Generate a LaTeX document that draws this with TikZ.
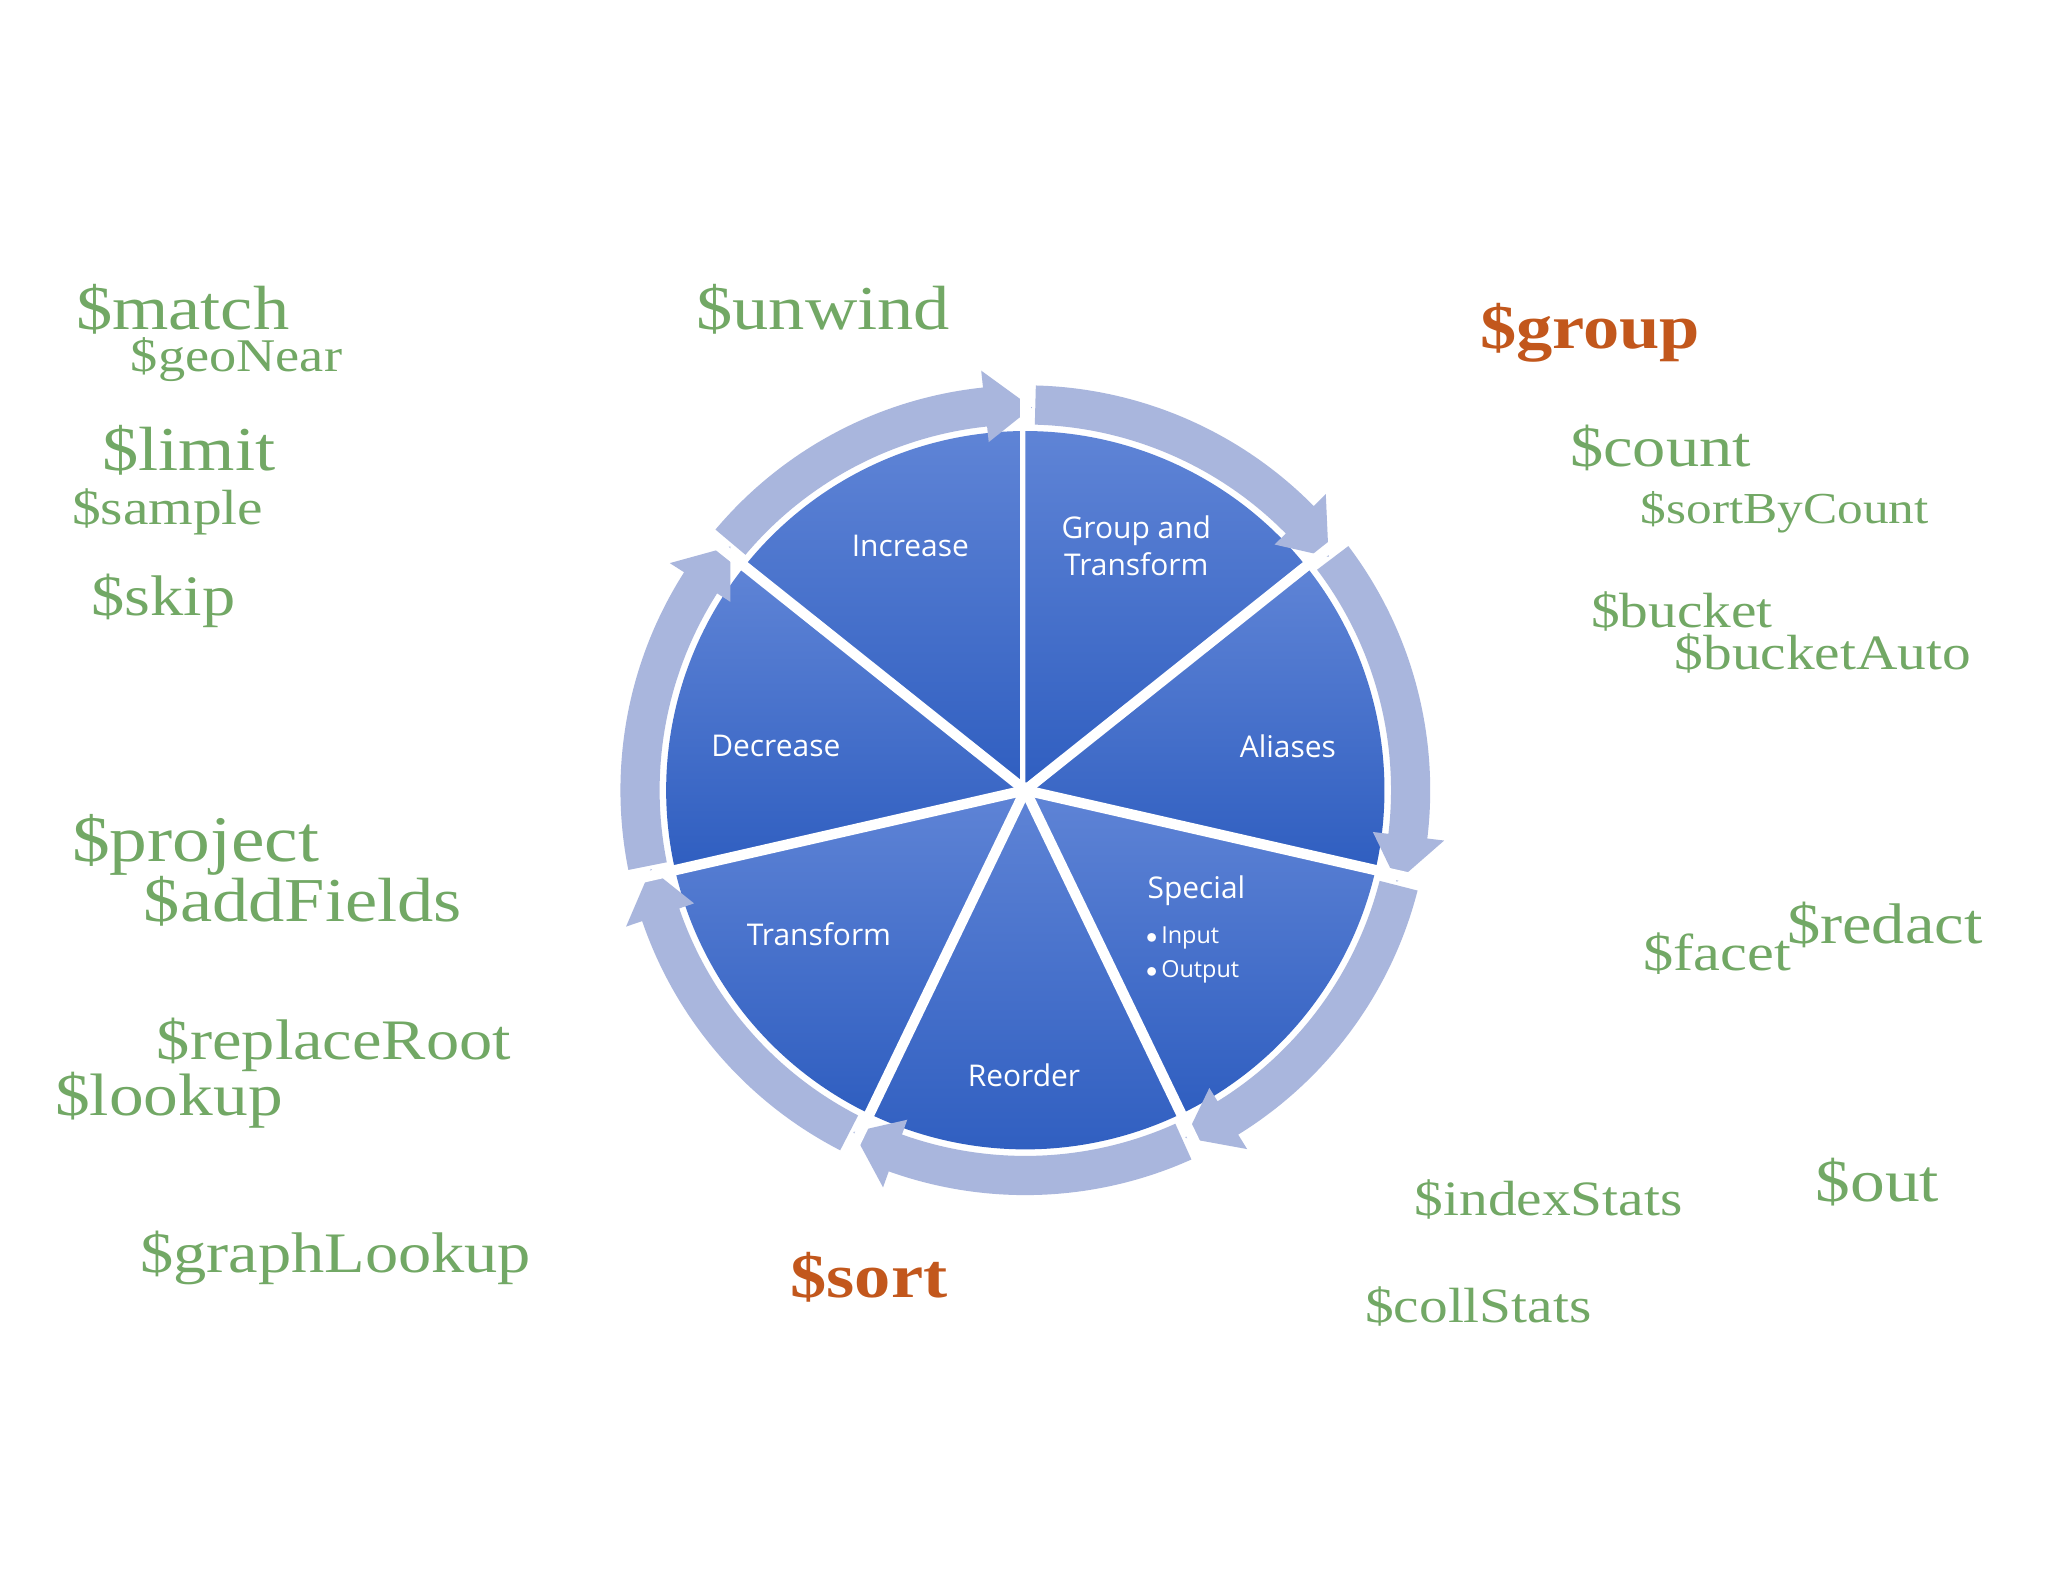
\documentclass[tikz,border=0pt]{standalone}
\usepackage{fontspec}
\setmainfont{Liberation Serif}
\newfontfamily\wfont[FakeStretch=1.16]{Liberation Serif}
\newfontfamily\lblfont{Open Sans}
\definecolor{wgreen}{HTML}{72A865}
\definecolor{worange}{HTML}{C2571C}
\definecolor{ringc}{HTML}{A9B6DD}
\definecolor{stop}{HTML}{5F84D6}
\definecolor{sbot}{HTML}{2F5EC0}
\tikzset{
 word/.style={anchor=west,text=wgreen,font=\wfont\fontsize{#1}{#1}\selectfont,inner sep=0},
 oword/.style={anchor=west,text=worange,font=\wfont\bfseries\fontsize{#1}{#1}\selectfont,inner sep=0},
 lbl/.style={text=white,font=\lblfont\fontsize{23}{28}\selectfont,align=center},
}
\begin{document}
\begin{tikzpicture}[x=1bp,y=-1bp]
\useasboundingbox[fill=white] (0,0) rectangle (1568,1211);
% words
\node[word=48] (w1) at (58,237) {\$match};
\node[word=36] (w2) at (100,275) {\$geoNear};
\node[word=48] (w3) at (78,345) {\$limit};
\node[word=38] (w4) at (55,392) {\$sample};
\node[word=44] (w5) at (70,460) {\$skip};
\node[word=48] (w6) at (533,237) {\$unwind};
\node[oword=48] (w7) at (1133,255) {\$group};
\node[word=44] (w8) at (1202,343) {\$count};
\node[word=34] (w9) at (1256,392) {\$sortByCount};
\node[word=38] (w10) at (1218,468) {\$bucket};
\node[word=38] (w11) at (1282,500) {\$bucketAuto};
\node[word=50] (w12) at (55,647) {\$project};
\node[word=48] (w13) at (110,690) {\$addFields};
\node[word=44] (w14) at (120,800) {\$replaceRoot};
\node[word=46] (w15) at (42,842) {\$lookup};
\node[word=44] (w16) at (107,963) {\$graphLookup};
\node[oword=48] (w17) at (605,978) {\$sort};
\node[word=38] (w18) at (1083,918) {\$indexStats};
\node[word=38] (w19) at (1045,1000) {\$collStats};
\node[word=46] (w20) at (1390,905) {\$out};
\node[word=40] (w21) at (1258,730) {\$facet};
\node[word=44] (w22) at (1368,708) {\$redact};
% pie
\begin{scope}[shift={(785,605)},yscale=-1]
\foreach \i in {0,...,6}{
  \pgfmathsetmacro\a{90+51.43*\i}
  \pgfmathsetmacro\b{\a+51.43}
  \shade[top color=stop,bottom color=sbot] (0,0) -- (\a:275) arc[start angle=\a,end angle=\b,radius=275] -- cycle;
  \pgfmathsetmacro\s{\b-1.5}
  \pgfmathsetmacro\e{\a+6}
  \pgfmathsetmacro\t{\a-1}
  \fill[ringc] (\s:280) arc[start angle=\s,end angle=\e,radius=280] -- (\e:268) -- (\t:293) -- (\e:323) -- (\e:310) arc[start angle=\e,end angle=\s,radius=310] -- cycle;
  \draw[white,line width=8] (0,0) -- (\a:330);
}
\fill[white] (0,0) circle (6);
\end{scope}
\node[lbl] (n1) at (697,418) {Increase};
\node[lbl] (n2) at (870,418) {Group and\\Transform};
\node[lbl] (n3) at (594,571) {Decrease};
\node[lbl] (n4) at (986,571) {Aliases};
\node[lbl] (n5) at (627,715) {Transform};
\node[lbl] (n6) at (784,823) {Reorder};
\node[lbl] (n7) at (916,682) {Special};
\node[lbl,font=\lblfont\fontsize{18}{28}\selectfont,align=left,anchor=north west] (n8) at (874,706) {$\bullet$\,Input\\[-2pt]$\bullet$\,Output};
\end{tikzpicture}
\end{document}
